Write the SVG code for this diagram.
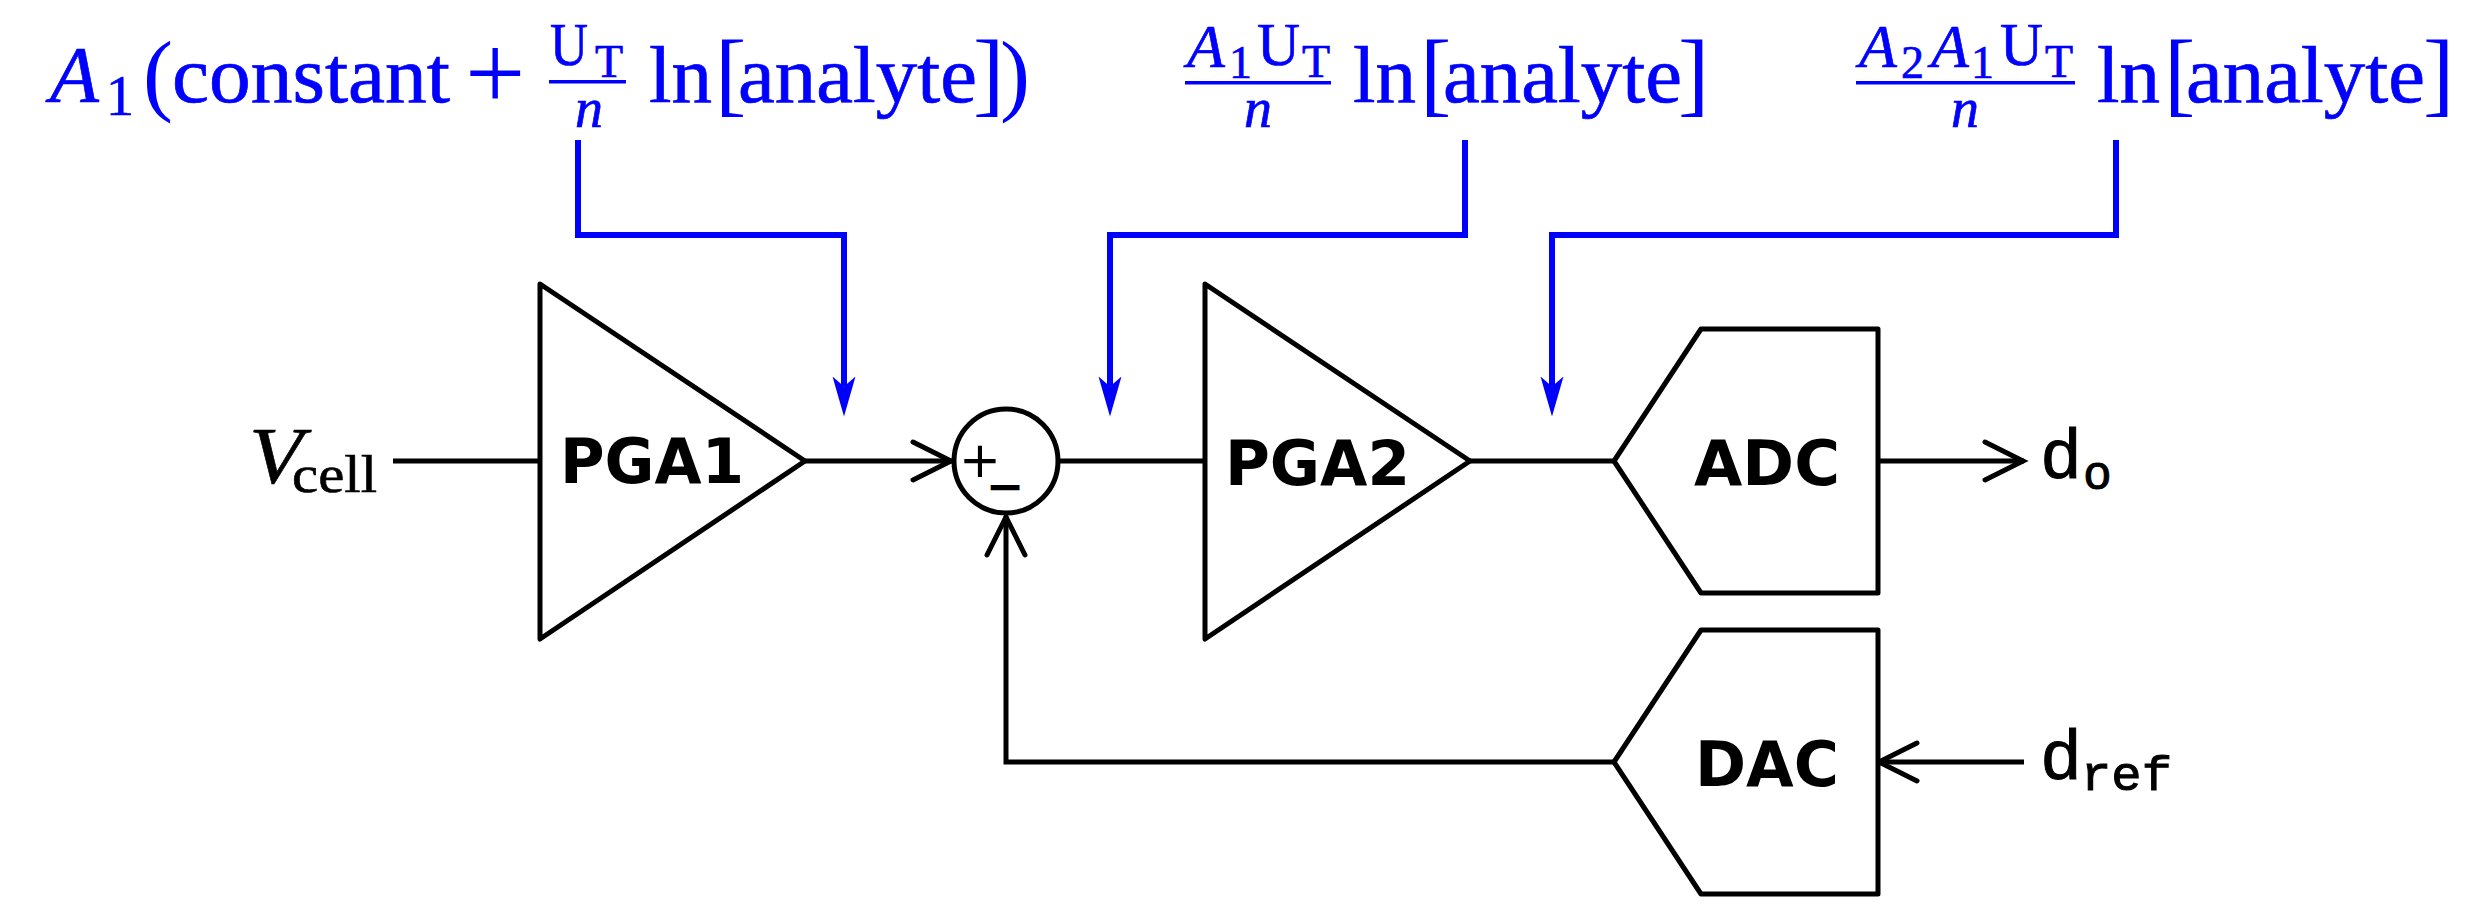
<svg xmlns="http://www.w3.org/2000/svg" width="2471" height="911" viewBox="0 0 2471 911">
<defs>
<style>
.w{fill:none;stroke:#000;stroke-width:5;stroke-linejoin:miter}
.b{fill:none;stroke:#00f;stroke-width:6;stroke-linejoin:miter}
.n{fill:#fff;stroke:#000;stroke-width:5;stroke-linejoin:round}
.t{font-family:"DejaVu Sans",sans-serif;font-weight:700;font-size:63px;fill:#000}
.m{font-family:"Liberation Serif",serif;fill:#00f;stroke:#00f;stroke-width:.7}
.b0{font-size:80px}
.i{font-style:italic}
.s{font-size:56px}
.u{font-size:62px}
.v{font-size:46px}
.a{font-size:62px}
.p{font-size:90px;stroke:none}
.q{font-size:94px;stroke:none}
.x{font-size:107px;stroke:none}
.k{font-family:"Liberation Serif",serif;fill:#000;stroke:#000;stroke-width:.6}
.c{font-family:"Liberation Mono",monospace;fill:#000;stroke:#000;stroke-width:1}
.o{font-family:"DejaVu Sans",sans-serif;fill:#000;text-anchor:middle}
.r{fill:#00f;stroke:none}
</style>
<marker id="open" markerUnits="userSpaceOnUse" markerWidth="50" markerHeight="50" refX="42" refY="25" orient="auto">
<path d="M3,6 L41,25 L3,44" fill="none" stroke="#000" stroke-width="5" stroke-linecap="round" stroke-linejoin="miter"/>
</marker>
<marker id="barb" markerUnits="userSpaceOnUse" markerWidth="50" markerHeight="30" refX="10" refY="15" orient="auto">
<path d="M0,3.500 L40,15 L0,26.500 L10,15 Z" fill="#00f"/>
</marker>
</defs>
<rect width="2471" height="911" fill="#fff"/>
<g id="connectors">
<line class="w" x1="393" y1="461" x2="540" y2="461"/>
<line class="w" x1="804" y1="461" x2="952" y2="461" marker-end="url(#open)"/>
<line class="w" x1="1060" y1="461" x2="1205" y2="461"/>
<line class="w" x1="1470" y1="461" x2="1614" y2="461"/>
<line class="w" x1="1878" y1="461" x2="2024" y2="461" marker-end="url(#open)"/>
<line class="w" x1="2024" y1="762" x2="1878" y2="762" marker-end="url(#open)"/>
<polyline class="w" points="1614,762 1006,762 1006,516" marker-end="url(#open)"/>
<polyline class="b" points="578,140 578,235 844,235 844,386.500" marker-end="url(#barb)"/>
<polyline class="b" points="1465,140 1465,235 1110,235 1110,386.500" marker-end="url(#barb)"/>
<polyline class="b" points="2116,140 2116,235 1552,235 1552,386.500" marker-end="url(#barb)"/>
</g>
<g id="pga1">
<polygon class="n" points="540,284 805,461 540,639"/>
<text class="t" x="560" y="483" textLength="184" lengthAdjust="spacingAndGlyphs">PGA1</text>
</g>
<g id="sum">
<circle class="n" cx="1006" cy="461" r="52"/>
<text class="o" x="980" y="476.700" font-size="50">+</text>
<text class="o" x="1005" y="502.400" font-size="46" font-weight="700">−</text>
</g>
<g id="pga2">
<polygon class="n" points="1205,284 1470,461 1205,639"/>
<text class="t" x="1225" y="485" textLength="185" lengthAdjust="spacingAndGlyphs">PGA2</text>
</g>
<g id="adc">
<polygon class="n" points="1614,461 1701,329 1878,329 1878,593 1701,593"/>
<text class="t" x="1694" y="485" textLength="146" lengthAdjust="spacingAndGlyphs">ADC</text>
</g>
<g id="dac">
<polygon class="n" points="1614,762 1701,630 1878,630 1878,894 1701,894"/>
<text class="t" x="1695" y="786" textLength="144" lengthAdjust="spacingAndGlyphs">DAC</text>
</g>
<g id="vcell">
<text class="k i" x="249" y="483" font-size="80" textLength="54" lengthAdjust="spacingAndGlyphs">V</text>
<text class="k" x="292" y="492" font-size="52" textLength="85" lengthAdjust="spacingAndGlyphs">cell</text>
</g>
<g id="do">
<text class="c" x="2040" y="477.500" font-size="70">d</text>
<text class="c" x="2083" y="489" font-size="48">o</text>
</g>
<g id="dref">
<text class="c" x="2040" y="779" font-size="70">d</text>
<text class="c" x="2081" y="790" font-size="48" textLength="91" lengthAdjust="spacingAndGlyphs">ref</text>
</g>
<g id="label1">
<text class="m b0 i" x="50" y="102">A</text>
<text class="m s" x="106" y="115">1</text>
<text class="m b0"><tspan class="p" x="143" y="104">(</tspan><tspan x="172" y="102" textLength="278" lengthAdjust="spacingAndGlyphs">constant</tspan></text>
<text class="m x" x="465" y="109">+</text>
<rect class="r" x="549" y="80" width="77" height="3.500"/>
<text class="m u" x="550" y="65" textLength="38" lengthAdjust="spacingAndGlyphs">U</text>
<text class="m v" x="595" y="77">T</text>
<text class="m i s" x="575" y="127">n</text>
<text class="m b0"><tspan x="649" y="102" textLength="63" lengthAdjust="spacingAndGlyphs">ln</tspan><tspan class="q" x="715" y="105">[</tspan><tspan x="738" y="102" textLength="239" lengthAdjust="spacingAndGlyphs">analyte</tspan><tspan class="q" x="973" y="105">]</tspan><tspan class="p" x="1000" y="104">)</tspan></text>
</g>
<g id="label2">
<rect class="r" x="1185" y="81" width="146" height="3.500"/>
<text class="m a i" x="1187" y="67">A</text>
<text class="m v" x="1229" y="78">1</text>
<text class="m u" x="1257" y="65" textLength="43" lengthAdjust="spacingAndGlyphs">U</text>
<text class="m v" x="1302" y="77">T</text>
<text class="m i s" x="1244" y="127">n</text>
<text class="m b0"><tspan x="1353" y="102" textLength="63" lengthAdjust="spacingAndGlyphs">ln</tspan><tspan class="q" x="1420" y="105">[</tspan><tspan x="1443" y="102" textLength="239" lengthAdjust="spacingAndGlyphs">analyte</tspan><tspan class="q" x="1678" y="105">]</tspan></text>
</g>
<g id="label3">
<rect class="r" x="1856" y="81" width="219" height="3.500"/>
<text class="m a i" x="1859" y="67">A</text>
<text class="m v" x="1901" y="78">2</text>
<text class="m a i" x="1931" y="67">A</text>
<text class="m v" x="1971" y="78">1</text>
<text class="m u" x="2000" y="65" textLength="43" lengthAdjust="spacingAndGlyphs">U</text>
<text class="m v" x="2045" y="77">T</text>
<text class="m i s" x="1951" y="127">n</text>
<text class="m b0"><tspan x="2097" y="102" textLength="63" lengthAdjust="spacingAndGlyphs">ln</tspan><tspan class="q" x="2164" y="105">[</tspan><tspan x="2186" y="102" textLength="239" lengthAdjust="spacingAndGlyphs">analyte</tspan><tspan class="q" x="2423" y="105">]</tspan></text>
</g>
</svg>
